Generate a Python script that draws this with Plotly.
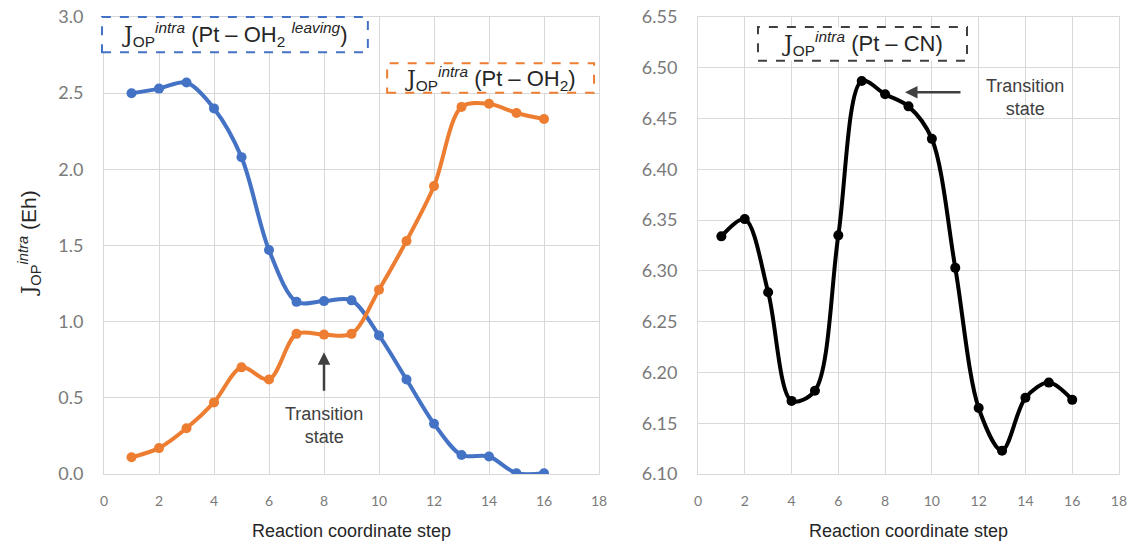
import plotly.graph_objects as go

steps = list(range(1, 17))
pt_oh2_leaving = [2.50, 2.53, 2.57, 2.40, 2.08, 1.47, 1.13, 1.135, 1.14, 0.91, 0.62, 0.33, 0.125, 0.115, 0.005, 0.005]
pt_oh2 = [0.11, 0.17, 0.30, 0.47, 0.70, 0.62, 0.92, 0.915, 0.92, 1.21, 1.53, 1.89, 2.41, 2.43, 2.37, 2.33]
pt_cn = [6.334, 6.351, 6.279, 6.172, 6.182, 6.335, 6.487, 6.474, 6.462, 6.430, 6.303, 6.165, 6.123, 6.175, 6.190, 6.173]

x_ticks = list(range(0, 19, 2))
left_y_ticks = [0.0, 0.5, 1.0, 1.5, 2.0, 2.5, 3.0]
right_y_ticks = [6.10, 6.15, 6.20, 6.25, 6.30, 6.35, 6.40, 6.45, 6.50, 6.55]

BLUE = "#4472C4"
ORANGE = "#ED7D31"
GRID = "#d9d9d9"
TICKC = "#7a7a7a"
TEXTC = "#404040"

fig = go.Figure()
fig.add_trace(go.Scatter(x=steps, y=pt_oh2_leaving, mode="lines+markers",
                         line=dict(color=BLUE, width=4, shape="spline", smoothing=0.9),
                         marker=dict(size=10, color=BLUE), xaxis="x", yaxis="y", showlegend=False))
fig.add_trace(go.Scatter(x=steps, y=pt_oh2, mode="lines+markers",
                         line=dict(color=ORANGE, width=4, shape="spline", smoothing=0.9),
                         marker=dict(size=10, color=ORANGE), xaxis="x", yaxis="y", showlegend=False))
fig.add_trace(go.Scatter(x=steps, y=pt_cn, mode="lines+markers",
                         line=dict(color="black", width=4, shape="spline", smoothing=0.9),
                         marker=dict(size=10, color="black"), xaxis="x2", yaxis="y2", showlegend=False))

tickfont = dict(family="Lato, Noto Sans, sans-serif", size=14, color=TICKC)
ytickfont = dict(family="Lato, Noto Sans, sans-serif", size=18, color=TICKC)
titlefont = dict(family="Liberation Sans, Arial, sans-serif", size=18, color="#262626")

xcommon = dict(range=[0, 18], tickvals=x_ticks, showgrid=True, gridcolor=GRID, gridwidth=1,
               zeroline=False, showline=True, linecolor=GRID, mirror=True, ticks="",
               tickfont=tickfont, ticklabelstandoff=14, automargin=False,
               title=dict(text="Reaction coordinate step", font=titlefont, standoff=16))

ycommon = dict(domain=[0, 1], showgrid=True, gridcolor=GRID, zeroline=False, showline=True,
               linecolor=GRID, mirror=True, tickfont=ytickfont, ticklabelstandoff=16, automargin=False)

fig.update_layout(
    width=1135, height=541,
    margin=dict(l=104, r=16, t=17, b=67),
    paper_bgcolor="white", plot_bgcolor="white",
    xaxis=dict(domain=[0, 0.4877], **xcommon),
    xaxis2=dict(domain=[0.5852, 1.0], anchor="y2", **xcommon),
    yaxis=dict(range=[0, 3.0], tickvals=left_y_ticks,
               ticktext=[f"{v:.1f}" for v in left_y_ticks], **ycommon),
    yaxis2=dict(range=[6.10, 6.55], anchor="x2", tickvals=right_y_ticks,
                ticktext=[f"{v:.2f}" for v in right_y_ticks], **ycommon),
)

J = '<span style="font-family:\'DejaVu Serif\', serif">J</span><sub>OP</sub><sup><i>intra</i></sup>'
boxfont = dict(family="Liberation Sans, Arial, sans-serif", size=22, color="#262626")

# dashed boxes
fig.add_shape(type="rect", xref="x domain", yref="y domain", x0=-0.004, x1=0.533, y0=0.923, y1=1.0,
              line=dict(color=BLUE, width=2, dash="dash"), fillcolor="white", layer="above")
fig.add_shape(type="rect", xref="x domain", yref="y domain", x0=0.572, x1=0.99, y0=0.834, y1=0.899,
              line=dict(color=ORANGE, width=2, dash="dash"), fillcolor="white", layer="above")
fig.add_shape(type="rect", xref="x2 domain", yref="y2 domain", x0=0.1425, x1=0.639, y0=0.904, y1=0.978,
              line=dict(color="#404040", width=2, dash="dash"), fillcolor="white", layer="above")

fig.add_annotation(xref="x domain", yref="y domain", x=0.2645, y=0.9615, showarrow=False,
                   xanchor="center", yanchor="middle",
                   text=J + ' (Pt – OH<sub>2</sub> <sup><i>leaving</i></sup>)', font=boxfont)
fig.add_annotation(xref="x domain", yref="y domain", x=0.781, y=0.8665, showarrow=False,
                   xanchor="center", yanchor="middle",
                   text=J + ' (Pt – OH<sub>2</sub>)', font=boxfont)
fig.add_annotation(xref="x2 domain", yref="y2 domain", x=0.391, y=0.941, showarrow=False,
                   xanchor="center", yanchor="middle",
                   text=J + ' (Pt – CN)', font=boxfont)

# y axis title
fig.add_annotation(xref="paper", yref="paper", x=-0.074, y=0.505, showarrow=False, textangle=-90,
                   xanchor="center", yanchor="middle",
                   text=J + ' (Eh)', font=dict(family="Liberation Sans, Arial, sans-serif", size=21, color="#262626"))

# transition state arrows and labels
ts_font = dict(family="Liberation Sans, Arial, sans-serif", size=18, color=TEXTC)
fig.add_annotation(xref="x", yref="y", x=8, y=0.80, ax=0, ay=40, text="", showarrow=True,
                   arrowhead=2, arrowsize=1, arrowwidth=2.5, arrowcolor=TEXTC)
fig.add_annotation(xref="x", yref="y", x=8, y=0.32, showarrow=False, text="Transition<br>state",
                   xanchor="center", yanchor="middle", font=ts_font)
fig.add_annotation(xref="x2", yref="y2", x=8.85, y=6.476, ax=57, ay=0, text="", showarrow=True,
                   arrowhead=2, arrowsize=1, arrowwidth=2.5, arrowcolor=TEXTC)
fig.add_annotation(xref="x2", yref="y2", x=14.0, y=6.471, showarrow=False, text="Transition<br>state",
                   xanchor="center", yanchor="middle", font=ts_font)

# remove the page's default 8px body margin so the figure fills the window exactly
fig.write_html("out.html", config={"displayModeBar": False},
               post_script="document.body.style.margin='0px';")
